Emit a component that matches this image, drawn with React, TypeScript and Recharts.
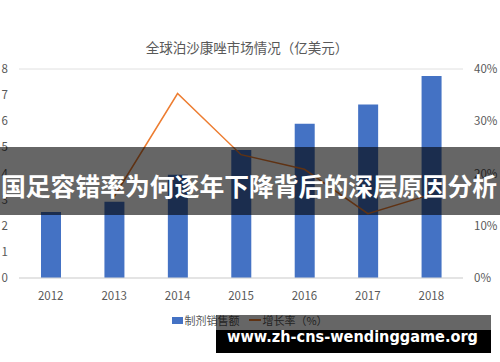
import { ComposedChart, Bar, Line, XAxis, YAxis, CartesianGrid, Legend } from 'recharts';

const years = ['2012', '2013', '2014', '2015', '2016', '2017', '2018'];
// 制剂销售额 (亿美元)
const sales = [2.53, 2.92, 3.95, 4.9, 5.9, 6.64, 7.73];
// 增长率 (%)
const growth = [null, 15.6, 35.3, 23.6, 20.8, 12.3, 16.0];
const leftTicks = [0, 1, 2, 3, 4, 5, 6, 7, 8];
const rightTicks = [0, 10, 20, 30, 40];

const title = '全球泊沙康唑市场情况（亿美元）';
const salesName = '制剂销售额';
const growthName = '增长率（%）';
const bannerText = '国足容错率为何逐年下降背后的深层原因分析';
const watermark = 'www.zh-cns-wendinggame.org';

const data = years.map((year, i) => ({ year, sales: sales[i], growth: growth[i] }));

const font = '"Noto Sans CJK SC", "Noto Sans", sans-serif';
const labelColor = '#595959';

function ChartLegend() {
    return (
        <div
            style={{
                display: 'flex',
                justifyContent: 'center',
                alignItems: 'center',
                fontFamily: font,
                fontSize: 11,
                color: labelColor,
                height: 18,
            }}
        >
            <span style={{ width: 11, height: 7, background: '#4472C4', display: 'inline-block' }} />
            <span style={{ marginLeft: 1 }}>{salesName}</span>
            <span style={{ width: 12, height: 2, background: '#ED7D31', display: 'inline-block', marginLeft: 10 }} />
            <span style={{ marginLeft: 1 }}>{growthName}</span>
        </div>
    );
}

export default function App() {
    return (
        <div style={{ position: 'absolute', left: 0, top: 0, width: 500, height: 362, background: '#fff' }}>
            <ComposedChart
                width={500}
                height={362}
                data={data}
                margin={{ top: 69, right: 0, left: 0, bottom: 54 }}
            >
                <text
                    x={247}
                    y={47}
                    textAnchor="middle"
                    dominantBaseline="central"
                    fontFamily={font}
                    fontSize={13.5}
                    fill={labelColor}
                >
                    {title}
                </text>
                <CartesianGrid vertical={false} stroke="#e0e0e0" />
                <XAxis
                    dataKey="year"
                    axisLine={{ stroke: '#d9d9d9' }}
                    tickLine={false}
                    tickSize={0}
                    tickMargin={14}
                    height={30}
                    tick={{ fontSize: 11.5, fill: labelColor, fontFamily: font }}
                />
                <YAxis
                    yAxisId="left"
                    domain={[0, 8]}
                    ticks={leftTicks}
                    width={19}
                    axisLine={false}
                    tickLine={false}
                    tickSize={0}
                    tickMargin={11}
                    tick={{ fontSize: 11.5, fill: labelColor, fontFamily: font }}
                />
                <YAxis
                    yAxisId="right"
                    orientation="right"
                    domain={[0, 40]}
                    ticks={rightTicks}
                    width={37}
                    axisLine={false}
                    tickLine={false}
                    tickSize={0}
                    tickMargin={11}
                    tickFormatter={(v: number) => `${v}%`}
                    tick={{ fontSize: 11.5, fill: labelColor, fontFamily: font }}
                />
                <Legend
                    layout="horizontal"
                    verticalAlign="middle"
                    align="center"
                    wrapperStyle={{ position: 'absolute', top: 311, left: 0, width: 500 }}
                    content={() => <ChartLegend />}
                />
                <Bar
                    yAxisId="left"
                    dataKey="sales"
                    name={salesName}
                    fill="#4472C4"
                    barSize={20}
                    isAnimationActive={false}
                />
                <Line
                    yAxisId="right"
                    dataKey="growth"
                    name={growthName}
                    stroke="#ED7D31"
                    strokeWidth={1.5}
                    dot={false}
                    activeDot={false}
                    isAnimationActive={false}
                />
            </ComposedChart>
            <svg
                width={500}
                height={362}
                style={{ position: 'absolute', left: 0, top: 0, pointerEvents: 'none' }}
            >
                <rect x={0} y={147} width={500} height={68} fill="rgba(0,0,0,0.6)" />
                <text
                    x={1}
                    y={185}
                    dominantBaseline="central"
                    fontFamily={font}
                    fontWeight="bold"
                    fontSize={24.8}
                    fill="#fff"
                    textLength={496}
                    lengthAdjust="spacingAndGlyphs"
                >
                    {bannerText}
                </text>
                <rect x={216} y={315} width={275} height={15} fill="rgba(0,0,0,0.6)" />
                <rect x={216} y={330} width={275} height={23} fill="#000" />
                <text
                    x={227}
                    y={342}
                    fontFamily='"DejaVu Sans", sans-serif'
                    fontWeight="bold"
                    fontSize={16.5}
                    fill="#fff"
                    textLength={251}
                    lengthAdjust="spacingAndGlyphs"
                >
                    {watermark}
                </text>
            </svg>
        </div>
    );
}
